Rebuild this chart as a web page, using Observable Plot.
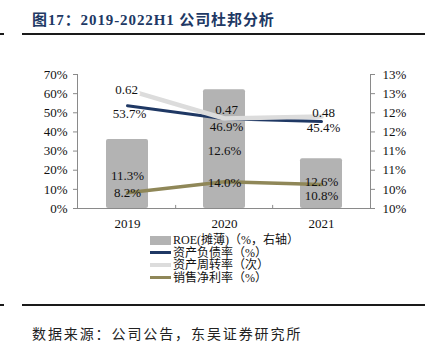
<!DOCTYPE html>
<html><head><meta charset="utf-8">
<script src="https://cdn.jsdelivr.net/npm/d3@7"></script>
<script src="https://cdn.jsdelivr.net/npm/@observablehq/plot@0.6"></script>
<style>
body{margin:0;background:#fff;}
#wrap{position:relative;width:441px;height:350px;overflow:hidden;font-family:"Liberation Serif","Noto Sans CJK SC",serif;color:#111;}
#chart{position:absolute;left:0;top:0;}
.title{position:absolute;left:32px;top:8px;font-size:15px;letter-spacing:0.9px;font-weight:bold;color:#203864;white-space:nowrap;}
.hr{position:absolute;height:2px;background:#1a1a1a;}
.caption{position:absolute;left:32px;top:323px;font-size:14px;letter-spacing:1.9px;white-space:nowrap;color:#222;}
.legend{position:absolute;left:150px;top:234px;font-size:12px;line-height:12.5px;}
.legend .row{display:flex;align-items:center;height:12.5px;white-space:nowrap;}
.legend .sw{width:21px;margin-right:2px;}
</style></head><body>
<div id="wrap">
  <div id="chart"></div>
  <div class="title">图17：2019-2022H1 公司杜邦分析</div>
  <div class="hr" style="left:22px;top:33px;width:403px"></div>
  <div class="hr" style="left:0;top:33px;width:4px"></div>
  <div class="legend" id="legend"></div>
  <div class="hr" style="left:22px;top:304px;width:403px"></div>
  <div class="hr" style="left:0;top:304px;width:4px"></div>
  <div class="caption">数据来源：公司公告，东吴证券研究所</div>
</div>
<script>
// ---- data ----
const years = ["2019", "2020", "2021"];
const roe = [11.3, 12.6, 10.8];            // ROE(摊薄) %, right axis
const debtRatio = [53.7, 46.9, 45.4];      // 资产负债率 %
const assetTurnover = [0.62, 0.47, 0.48];  // 资产周转率 次
const netMargin = [8.2, 14.0, 12.6];       // 销售净利率 %
const leftTicks = [0, 10, 20, 30, 40, 50, 60, 70];
const rightDomain = [9.5, 13];
const seriesNames = ["ROE(摊薄)（%，右轴）", "资产负债率（%）", "资产周转率（次）", "销售净利率（%）"];

// ---- layout / style (not data) ----
const colors = {roe: "#b3b3b3", debt: "#1f3864", turn: "#dcdcdc", margin: "#8f8758"};
const nudge = {roe: [2, 2, 12], debt: [8, 8, 6], turn: [0, -9, -4], margin: [0, 1, -3]};
const W = 441, H = 350, mT = 74, mB = 142, mL = 77, mR = 71;
const step = (W - mL - mR) / years.length;

const toLeft = v => (v - rightDomain[0]) * 70 / (rightDomain[1] - rightDomain[0]);
const fromLeft = t => rightDomain[0] + t * (rightDomain[1] - rightDomain[0]) / 70;

const font = '"Liberation Serif","Noto Sans CJK SC",serif';
const labelMarks = [];
years.forEach((y, i) => {
  labelMarks.push(Plot.text([y], {x: d => d, y: () => toLeft(roe[i]) / 2, text: () => roe[i].toFixed(1) + "%", dy: nudge.roe[i], fill: "#111", fontSize: 13}));
  labelMarks.push(Plot.text([y], {x: d => d, y: () => debtRatio[i], text: () => debtRatio[i].toFixed(1) + "%", dy: nudge.debt[i], dx: 2, fill: "#111", fontSize: 13}));
  labelMarks.push(Plot.text([y], {x: d => d, y: () => assetTurnover[i] * 100, text: () => assetTurnover[i].toFixed(2), dy: nudge.turn[i], dx: i === 0 ? -1 : 2, fill: "#111", stroke: i === 0 ? "white" : "none", strokeWidth: 5, paintOrder: "stroke", fontSize: 13}));
  labelMarks.push(Plot.text([y], {x: d => d, y: () => netMargin[i], text: () => netMargin[i].toFixed(1) + "%", dy: nudge.margin[i], fill: "#111", fontSize: 13}));
});

const chart = Plot.plot({
  width: W, height: H,
  marginTop: mT, marginBottom: mB, marginLeft: mL, marginRight: mR,
  style: {fontFamily: font, fontSize: "13px", background: "transparent", color: "#111"},
  x: {type: "band", domain: years, paddingInner: 0.57, paddingOuter: 0.285, axis: null},
  y: {domain: [0, 70], axis: null},
  marks: [
    Plot.barY(years, {x: d => d, y1: 0, y2: (d, i) => toLeft(roe[i]), fill: colors.roe, rx: 2}),
    Plot.frame({anchor: "left", stroke: "#8a8a8a"}),
    Plot.frame({anchor: "right", stroke: "#8a8a8a"}),
    Plot.ruleY([0], {stroke: "#8a8a8a"}),
    Plot.ruleX(years.slice(1), {y1: 0, y2: 1.6, dx: -step / 2, stroke: "#8a8a8a"}),
    Plot.axisY(leftTicks, {anchor: "left", tickSize: 4, tickPadding: 6, tickFormat: d => d + "%", stroke: "#8a8a8a", fill: "#111", fontSize: 13}),
    Plot.axisY(leftTicks, {anchor: "right", tickSize: 4, tickPadding: 8, tickFormat: t => Math.round(fromLeft(t)) + "%", stroke: "#8a8a8a", fill: "#111", fontSize: 13}),
    Plot.axisX({anchor: "bottom", tickSize: 0, tickPadding: 10, fill: "#111", fontSize: 13}),
    Plot.line(years, {x: d => d, y: (d, i) => debtRatio[i], stroke: colors.debt, strokeWidth: 3}),
    Plot.line(years, {x: d => d, y: (d, i) => assetTurnover[i] * 100, stroke: colors.turn, strokeWidth: 4.5}),
    Plot.line(years, {x: d => d, y: (d, i) => netMargin[i], stroke: colors.margin, strokeWidth: 3.5}),
    ...labelMarks
  ]
});
document.getElementById("chart").appendChild(chart);

// legend
const legend = document.getElementById("legend");
const swatch = [
  `<span class="sw" style="height:9px;background:${colors.roe}"></span>`,
  `<span class="sw" style="height:3px;background:${colors.debt}"></span>`,
  `<span class="sw" style="height:4px;background:${colors.turn}"></span>`,
  `<span class="sw" style="height:3px;background:${colors.margin}"></span>`
];
seriesNames.forEach((n, i) => {
  const row = document.createElement("div");
  row.className = "row";
  row.innerHTML = swatch[i] + `<span>${n}</span>`;
  legend.appendChild(row);
});
</script>
</body></html>
